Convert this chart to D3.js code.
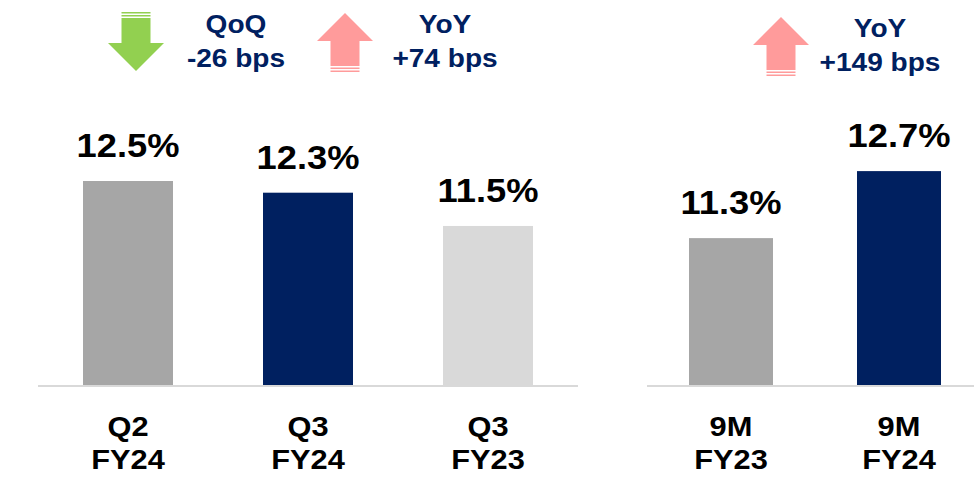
<!DOCTYPE html>
<html>
<head>
<meta charset="utf-8">
<script src="https://cdnjs.cloudflare.com/ajax/libs/d3/7.8.5/d3.min.js"></script>
<title>Margin</title>
<style>
  body{ margin: 0; background-color: #fff; }
  text{ font-family: "Liberation Sans", Arial, sans-serif; font-weight: bold; }
</style>
</head>
<body>
<script>
// quarter panel
var qCats   = ["Q2|FY24", "Q3|FY24", "Q3|FY23"],
    qValues = [12.52, 12.26, 11.52],
    qColors = ["#a6a6a6", "#002060", "#d9d9d9"];
// nine-month panel
var nCats   = ["9M|FY23", "9M|FY24"],
    nValues = [11.25, 12.74],
    nColors = ["#a6a6a6", "#002060"];
// change call-outs
var notes     = [["QoQ", "-26 bps"], ["YoY", "+74 bps"], ["YoY", "+149 bps"]],
    noteX     = [236, 445, 880],
    noteY     = [33, 33, 37],
    noteDir   = ["down", "up", "up"],
    arrowX    = [136, 345, 781],
    arrowY    = [12, 13, 17];

var w = 974, h = 483,
    base = 387,
    sx = 1.1;   // text in the picture is stretched a bit wide

var svg = d3.select("body").append("svg")
    .attr("width", w)
    .attr("height", h);

var y = d3.scaleLinear().domain([7.94, 12.52]).range([base, 181]);

function panel(cats, values, colors, x0, x1){
  var x = d3.scaleBand().domain(cats).range([x0, x1]).paddingInner(0.5).paddingOuter(0.25);
  var g = svg.append("g");

  g.append("line")
    .attr("x1", x0).attr("x2", Math.min(x1, w))
    .attr("y1", base - 1).attr("y2", base - 1)
    .attr("stroke", "#d9d9d9").attr("stroke-width", 2);

  g.selectAll("rect").data(cats).enter().append("rect")
    .attr("x", function(d){ return x(d); })
    .attr("width", x.bandwidth())
    .attr("y", function(d, i){ return y(values[i]); })
    .attr("height", function(d, i){ return base - 2 - y(values[i]); })
    .attr("fill", function(d, i){ return colors[i]; });

  g.selectAll("text.val").data(cats).enter().append("text")
    .attr("class", "val")
    .attr("text-anchor", "middle")
    .attr("transform", function(d, i){
      return "translate(" + (x(d) + x.bandwidth()/2) + "," + (y(values[i]) - 24) + ") scale(" + sx + ",1)";
    })
    .style("font-size", "33px")
    .attr("fill", "#000")
    .text(function(d, i){ return values[i].toFixed(1) + "%"; });

  cats.forEach(function(c){
    c.split("|").forEach(function(line, j){
      g.append("text")
        .attr("text-anchor", "middle")
        .attr("transform", "translate(" + (x(c) + x.bandwidth()/2) + "," + (436 + j*33) + ") scale(" + sx + ",1)")
        .style("font-size", "28px")
        .attr("fill", "#000")
        .text(line);
    });
  });
}

panel(qCats, qValues, qColors, 38, 578);
panel(nCats, nValues, nColors, 647, 983);

// call-out text
notes.forEach(function(n, i){
  n.forEach(function(line, j){
    svg.append("text")
      .attr("text-anchor", "middle")
      .attr("transform", "translate(" + noteX[i] + "," + (noteY[i] + j*34) + ") scale(" + sx + ",1)")
      .style("font-size", "25.5px")
      .attr("fill", "#002060")
      .text(line);
  });
});

// striped block arrows
function arrow(cx, top, dir){
  var g = svg.append("g"),
      col = dir == "down" ? "#92d050" : "#ff9b9b",
      bw = 14.5, hw = 28, len = 59, head = 28;
  var path = d3.path();
  if(dir == "down"){
    var b0 = top + 6;
    path.moveTo(cx - bw, b0);
    path.lineTo(cx + bw, b0);
    path.lineTo(cx + bw, top + len - head);
    path.lineTo(cx + hw, top + len - head);
    path.lineTo(cx, top + len);
    path.lineTo(cx - hw, top + len - head);
    path.lineTo(cx - bw, top + len - head);
    path.closePath();
    g.append("rect").attr("x", cx - bw).attr("y", top).attr("width", bw*2).attr("height", 1.5).attr("fill", col);
    g.append("rect").attr("x", cx - bw).attr("y", top + 3).attr("width", bw*2).attr("height", 1.5).attr("fill", col);
  } else {
    var bEnd = top + len - 6;
    path.moveTo(cx, top);
    path.lineTo(cx + hw, top + head);
    path.lineTo(cx + bw, top + head);
    path.lineTo(cx + bw, bEnd);
    path.lineTo(cx - bw, bEnd);
    path.lineTo(cx - bw, top + head);
    path.lineTo(cx - hw, top + head);
    path.closePath();
    g.append("rect").attr("x", cx - bw).attr("y", bEnd + 1.5).attr("width", bw*2).attr("height", 1.5).attr("fill", col);
    g.append("rect").attr("x", cx - bw).attr("y", bEnd + 4.5).attr("width", bw*2).attr("height", 1.5).attr("fill", col);
  }
  g.append("path").attr("d", path.toString()).attr("fill", col);
}

noteDir.forEach(function(d, i){ arrow(arrowX[i], arrowY[i], d); });
</script>
</body>
</html>
